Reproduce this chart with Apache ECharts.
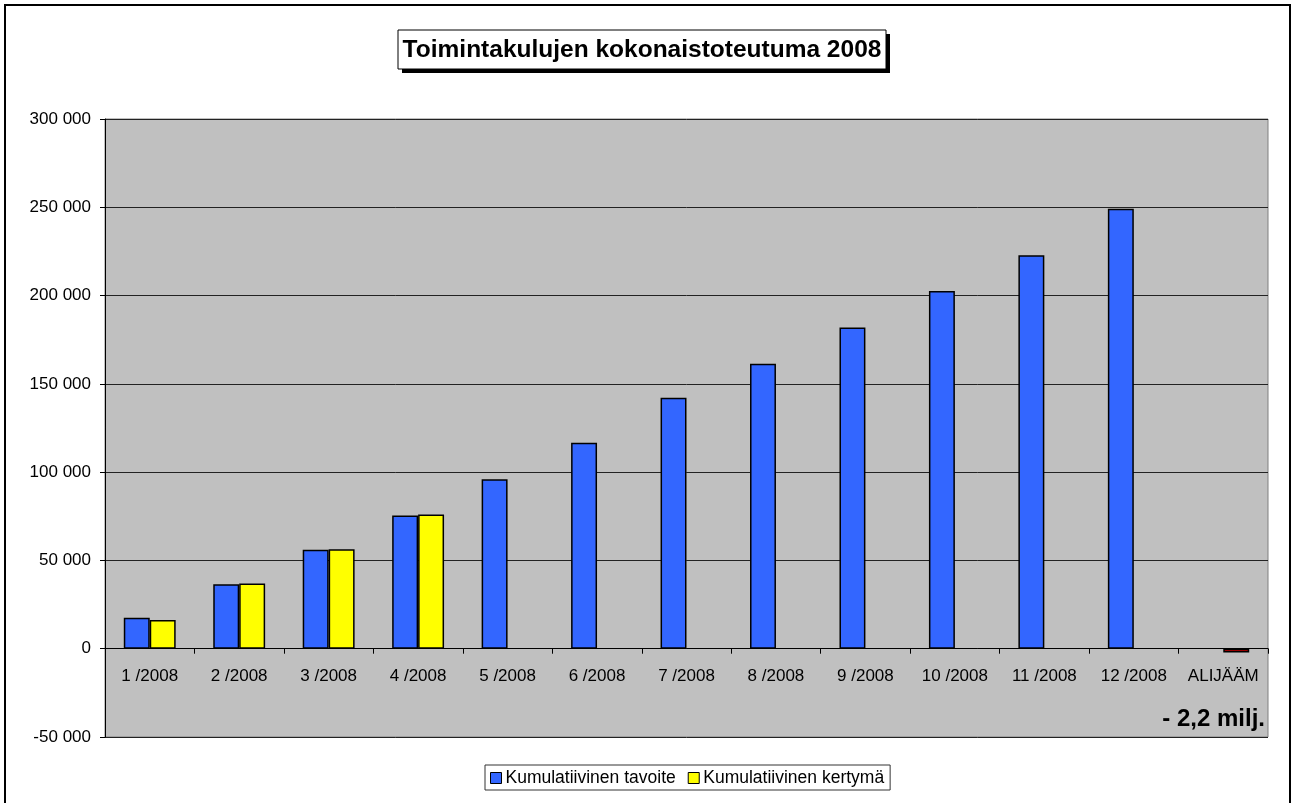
<!DOCTYPE html>
<html>
<head>
<meta charset="utf-8">
<script src="https://cdn.jsdelivr.net/npm/echarts@6.0.0/dist/echarts.min.js"></script>
<style>
  html, body { margin: 0; padding: 0; background: #fff; }
  #chart { width: 1292px; height: 803px; }
</style>
</head>
<body>
<div id="chart"></div>
<script>
// values
const categories = ['1 /2008', '2 /2008', '3 /2008', '4 /2008', '5 /2008', '6 /2008',
  '7 /2008', '8 /2008', '9 /2008', '10 /2008', '11 /2008', '12 /2008', 'ALIJÄÄM'];
const tavoite = [17500, 36500, 56100, 75500, 96000, 116700, 142100, 161400, 181900,
  202600, 222800, 249200, null];
const kertyma = [16200, 36900, 56300, 76000, null, null, null, null, null, null, null, null, -2200];
const yTicks = { min: -50000, max: 300000, step: 50000 };
const titleText = 'Toimintakulujen kokonaistoteutuma 2008';
const noteText = '- 2,2 milj.';

const font = "'Liberation Sans', Arial, sans-serif";
const fmt = v => String(v).replace(/\B(?=(\d{3})+(?!\d))/g, ' ');

const chart = echarts.init(document.getElementById('chart'));

chart.setOption({
  animation: false,
  textStyle: { fontFamily: font },
  legend: {
    bottom: 13,
    left: 485,
    padding: [4, 6, 3, 5],
    itemGap: 12,
    itemWidth: 11,
    itemHeight: 11,
    icon: 'rect',
    backgroundColor: '#fff',
    borderColor: '#333',
    borderWidth: 1,
    textStyle: { fontFamily: font, fontSize: 17.5, color: '#000', padding: [0, 0, 0, -1] },
    itemStyle: { borderColor: '#000', borderWidth: 1 },
    data: ['Kumulatiivinen tavoite', 'Kumulatiivinen kertymä']
  },
  grid: {
    left: 105, right: 24, top: 119, bottom: 66,
    show: true,
    backgroundColor: '#C0C0C0',
    borderColor: '#808080',
    borderWidth: 1
  },
  xAxis: {
    type: 'category',
    data: categories,
    axisLine: { onZero: true, lineStyle: { color: '#000', width: 1 } },
    axisTick: { show: true, length: 5, lineStyle: { color: '#000' } },
    axisLabel: { color: '#000', fontSize: 17, fontFamily: font, margin: -69, interval: 0 }
  },
  yAxis: {
    type: 'value',
    min: yTicks.min,
    max: yTicks.max,
    interval: yTicks.step,
    axisLine: { show: true, lineStyle: { color: '#000' } },
    axisTick: { show: true, length: 5, lineStyle: { color: '#000' } },
    axisLabel: { color: '#000', fontSize: 17, fontFamily: font, margin: 14, formatter: fmt },
    splitLine: { show: true, lineStyle: { color: '#222', width: 1 } }
  },
  graphic: [
    {
      type: 'rect',
      shape: { x: 5, y: 5, width: 1285, height: 820 },
      style: { fill: 'none', stroke: '#000', lineWidth: 2 },
      silent: true
    },
    // title box with drop shadow
    {
      type: 'rect',
      shape: { x: 402, y: 34, width: 488, height: 39 },
      style: { fill: '#000' },
      silent: true
    },
    {
      type: 'rect',
      shape: { x: 398, y: 30, width: 488, height: 39 },
      style: { fill: '#fff', stroke: '#000', lineWidth: 1 },
      silent: true
    },
    {
      type: 'text',
      x: 642,
      y: 50,
      style: {
        text: titleText, font: 'bold 24.5px ' + font, fill: '#000',
        align: 'center', verticalAlign: 'middle'
      }
    },
    {
      type: 'text',
      right: 27,
      top: 707,
      style: { text: noteText, font: 'bold 24px ' + font, fill: '#000' }
    }
  ],
  series: [
    {
      name: 'Kumulatiivinen tavoite',
      type: 'bar',
      data: tavoite,
      barGap: '0%',
      barCategoryGap: '42%',
      itemStyle: { color: '#3366FF', borderColor: '#000', borderWidth: 1.5 }
    },
    {
      name: 'Kumulatiivinen kertymä',
      type: 'bar',
      data: kertyma.map((v, i) => i === kertyma.length - 1
        ? { value: v, itemStyle: { color: '#CC0000' } }
        : v),
      itemStyle: { color: '#FFFF00', borderColor: '#000', borderWidth: 1.5 }
    }
  ]
});
</script>
</body>
</html>
